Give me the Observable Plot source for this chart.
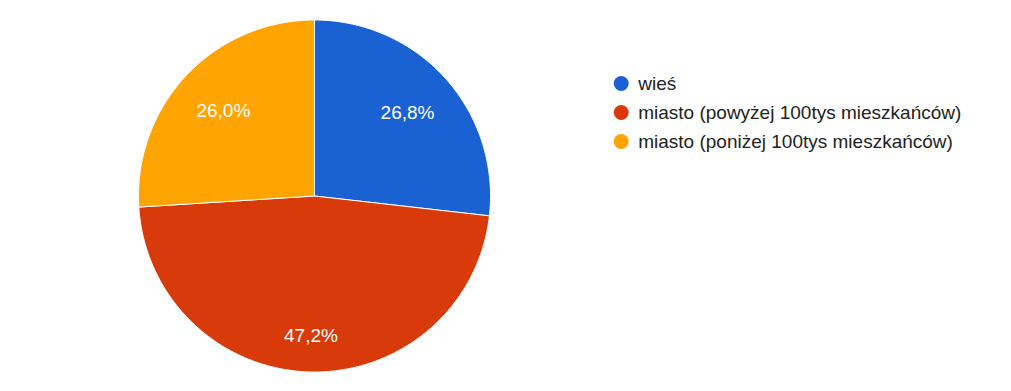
<!DOCTYPE html>
<html><head><meta charset="utf-8">
<script src="https://cdn.jsdelivr.net/npm/d3@7"></script>
<script src="https://cdn.jsdelivr.net/npm/@observablehq/plot@0.6"></script>
<style>
body{margin:0;background:#fff}
#chart{position:relative;width:1011px;height:391px;overflow:hidden}
#chart svg{position:absolute;top:0}
</style></head><body><div id="chart"></div>
<script>
const categories = ["wieś", "miasto (powyżej 100tys mieszkańców)", "miasto (poniżej 100tys mieszkańców)"];
const shares = [26.8, 47.2, 26.0];
const labels = ["26,8%", "47,2%", "26,0%"];
const colors = ["#1a62d3", "#d83a09", "#ffa400"];

const fontFamily = "'Liberation Sans', Arial, sans-serif";
const fontSize = 19;
const radiusPx = 176;

const rows = categories.map((c, i) => ({category: c, share: shares[i], label: labels[i]}));
const arcs = d3.pie().sort(null).value(d => d.share)(rows);

// slice outlines (unit circle, y up, clockwise from 12 o'clock)
const slicePts = [];
arcs.forEach(a => {
  const c = a.data.category;
  slicePts.push({category: c, x: 0, y: 0});
  const n = Math.max(2, Math.ceil((a.endAngle - a.startAngle) / (Math.PI / 360)));
  for (let k = 0; k <= n; k++) {
    const t = a.startAngle + (a.endAngle - a.startAngle) * k / n;
    slicePts.push({category: c, x: Math.sin(t), y: Math.cos(t)});
  }
  slicePts.push({category: c, x: 0, y: 0});
});

// label placement: outer corner of text box at a fixed radius
const ctx = document.createElement("canvas").getContext("2d");
ctx.font = `${fontSize}px ${fontFamily}`;
const R = 150 / radiusPx;
const labelPts = arcs.map(a => {
  const t = (a.startAngle + a.endAngle) / 2;
  const ux = Math.sin(t), uy = Math.cos(t);
  const hw = ctx.measureText(a.data.label).width / 2 / radiusPx;
  const hh = 7 / radiusPx;
  const b = Math.abs(ux) * hw + Math.abs(uy) * hh;
  const d = -b + Math.sqrt(b * b - (hw * hw + hh * hh - R * R));
  return {label: a.data.label, x: d * ux, y: d * uy};
});

const pieChart = Plot.plot({
  width: 600, height: 391,
  margin: 0,
  style: {fontFamily, background: "transparent"},
  x: {domain: [-1, 1], range: [314 - radiusPx, 314 + radiusPx], axis: null},
  y: {domain: [-1, 1], range: [195.5 + radiusPx, 195.5 - radiusPx], axis: null},
  color: {domain: categories, range: colors},
  marks: [
    Plot.line(slicePts, {x: "x", y: "y", z: "category", fill: "category", stroke: "white", strokeWidth: 1, strokeLinejoin: "round"}),
    Plot.text(labelPts, {x: "x", y: "y", text: "label", fill: "white", fontSize, lineAnchor: "middle", textAnchor: "middle"})
  ]
});
pieChart.style.left = "0px";

const legend = Plot.plot({
  width: 411, height: 391,
  margin: 0,
  style: {fontFamily, background: "transparent"},
  x: {domain: [0, 1], range: [20.7, 400], axis: null},
  y: {type: "point", domain: categories, range: [81.7, 141.7], padding: 0, axis: null},
  color: {domain: categories, range: colors},
  marks: [
    Plot.dot(categories, {x: () => 0, y: d => d, fill: d => d, r: 7.5}),
    Plot.text(categories, {x: () => 0, y: d => d, text: d => d, dx: 17, textAnchor: "start", lineAnchor: "middle", fill: "#222", fontSize})
  ]
});
legend.style.left = "600px";

const el = document.getElementById("chart");
el.append(pieChart, legend);
</script></body></html>
